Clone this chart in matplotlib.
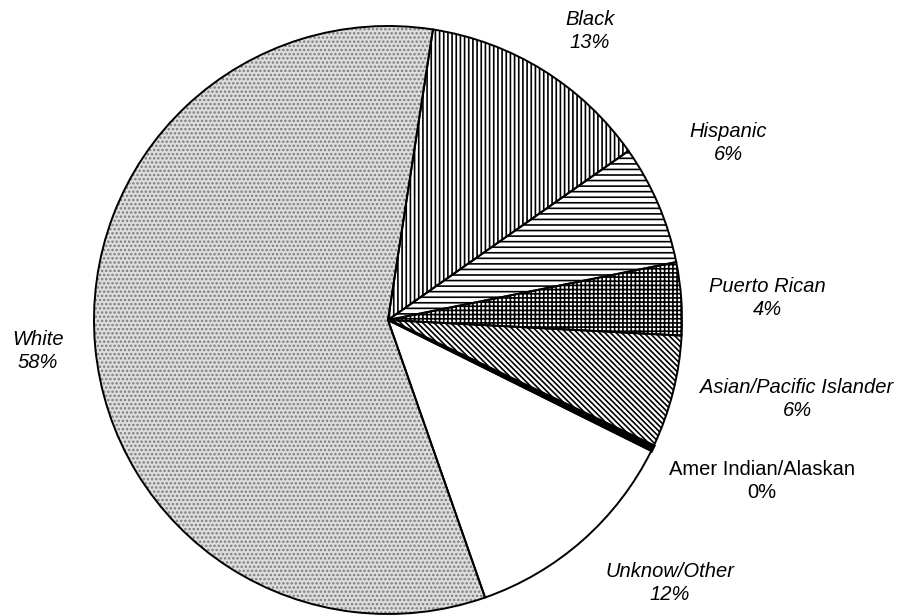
"""Pie chart of enrolment by race/ethnicity, hatched black and white style."""

import matplotlib

matplotlib.use("Agg")
import matplotlib.pyplot as plt

# data, clockwise from the top
groups = ["Black", "Hispanic", "Puerto Rican", "Asian/Pacific Islander",
          "Amer Indian/Alaskan", "Unknow/Other", "White"]
shares = [12.8, 6.6, 4.0, 6.2, 0.3, 12.3, 57.8]
pct_labels = ["13%", "6%", "4%", "6%", "0%", "12%", "58%"]

# styling per wedge
hatches = ["||||", "---", "++++", "\\" * 6, None, None, "...."]
faces = ["white", "white", "white", "white", "black", "white", "#dedede"]
hatch_colors = ["black", "black", "black", "black", "black", "white", "#7c7c7c"]
italic = [True, True, True, True, False, True, True]

# label anchor points in pixel coords (x, y from top)
label_xy = [(590, 31), (728, 143), (767, 298), (797, 399),
            (762, 481), (670, 583), (38, 351)]

W, H = 901, 615
CX, CY, R = 388, 320, 294

plt.rcParams["hatch.linewidth"] = 1.2
fig = plt.figure(figsize=(W / 100, H / 100), dpi=100)
ax = fig.add_axes([0, 0, 1, 1])

# fill + hatches (hatch drawn in the edge colour, so no outline here)
wedges, _ = ax.pie(shares, startangle=81.2, counterclock=False,
                   center=(CX, H - CY), radius=R, frame=True)
for w, hatch, fc, hc in zip(wedges, hatches, faces, hatch_colors):
    w.set_facecolor(fc)
    w.set_edgecolor(hc)
    w.set_linewidth(0)
    if hatch:
        w.set_hatch(hatch)

# black outlines on top
outline, _ = ax.pie(shares, startangle=81.2, counterclock=False,
                    center=(CX, H - CY), radius=R, frame=True,
                    wedgeprops=dict(facecolor="none", edgecolor="black", linewidth=1.4))
wedges[4].set_linewidth(2.5)
wedges[4].set_edgecolor("black")

ax.set_xlim(0, W)
ax.set_ylim(0, H)
ax.set_aspect("equal")
ax.axis("off")

for name, pct, (x, y), it in zip(groups, pct_labels, label_xy, italic):
    ax.text(x, H - y, f"{name}\n{pct}", ha="center", va="center",
            fontsize=14.5, family="Liberation Sans",
            style="italic" if it else "normal", linespacing=1.3)

fig.savefig("out.png", dpi=100)
